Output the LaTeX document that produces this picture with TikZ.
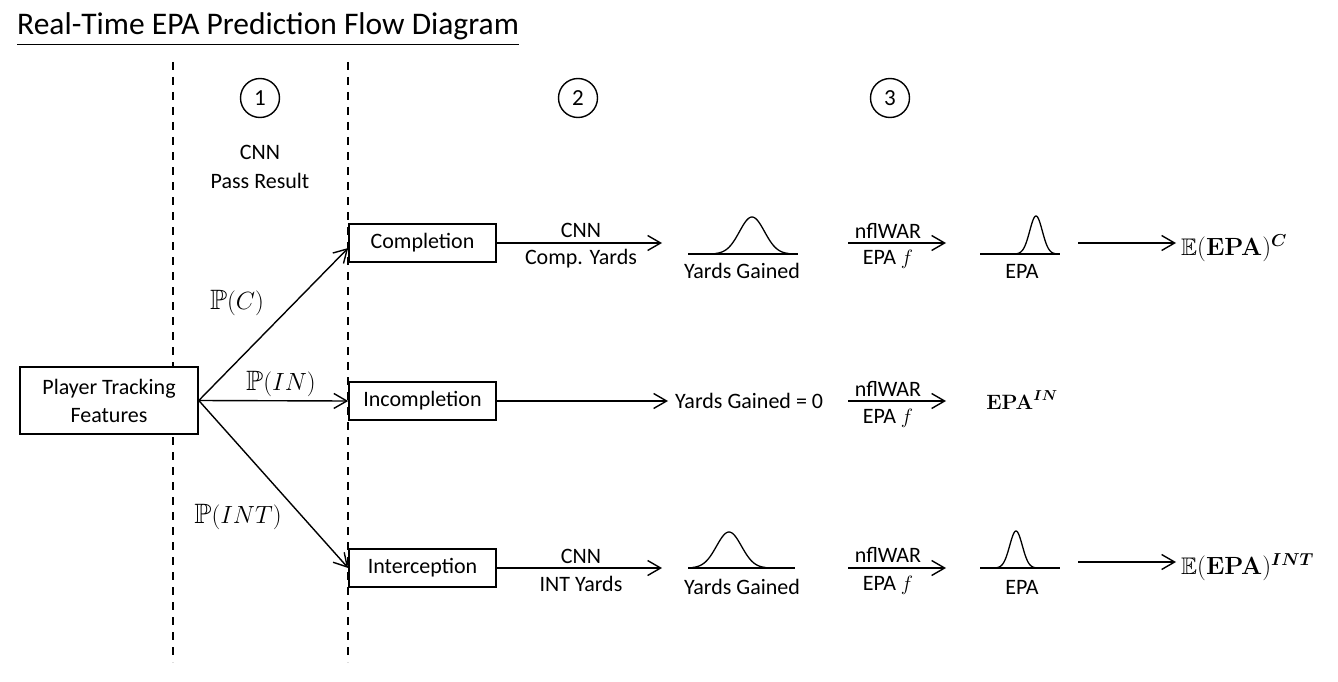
\documentclass[tikz,border=0pt]{standalone}
\usepackage[no-math]{fontspec}
\usepackage{amssymb}
\usepackage{bm}
\setmainfont{Carlito}
\usetikzlibrary{arrows.meta,calc}

\newcommand\lblfont{\fontsize{22}{28}\selectfont}
\newcommand\titlefont{\fontsize{31.5}{36}\selectfont}

\begin{document}
\begin{tikzpicture}[x=1pt,y=-1pt,
  box/.style={draw, fill=white, line width=1.6pt, minimum width=147pt, minimum height=38pt,
    inner sep=0pt, font=\lblfont},
  lab/.style={font=\lblfont, inner sep=0pt, anchor=base},
  mathlab/.style={font=\fontsize{28}{32}\selectfont, inner sep=0pt},
  result/.style={font=\fontsize{24}{28}\selectfont, inner sep=5pt},
  arr/.style={-{Straight Barb[length=13pt,width=15pt]}, line width=1.4pt},
  divider/.style={line width=1.5pt, dash pattern=on 8pt off 7pt},
  stepnum/.style={draw, circle, line width=1.4pt, minimum size=39pt, inner sep=0pt,
    font=\fontsize{23}{26}\selectfont},
  curve/.style={line width=1.3pt},
]
\useasboundingbox (0,0) rectangle (1338,682);

% title
\node[font=\titlefont, anchor=base west, inner sep=0pt] (title) at (17,35)
  {\underline{Real-Time EPA Prediction Flow Diagram}};

% stage separators
\draw[divider] (173,62) -- (173,662);
\draw[divider] (348,62) -- (348,662);

% stage numbers
\node[stepnum] (s1) at (260,98) {1};
\node[stepnum] (s2) at (578,98) {2};
\node[stepnum] (s3) at (890,98) {3};
\node[lab] (cnn1) at (260,160) {CNN};
\node[lab] (pr) at (260,188) {Pass Result};

% input and pass outcomes
\node[box, minimum width=178pt, minimum height=67pt, align=center] (ptf) at (109,400.5)
  {Player Tracking\\Features};
\node[box] (comp) at (422.5,243) {Completion};
\node[box] (inc) at (422.5,401) {Incompletion};
\node[box] (intc) at (422.5,568) {Interception};

\draw[arr] (ptf.east) -- ($(comp.west)+(0,5)$);
\draw[arr] (ptf.east) -- (inc.west);
\draw[arr] (ptf.east) -- (intc.west);

\node[mathlab] (pc) at (237,303) {$\mathbb{P}(C)$};
\node[mathlab] (pin) at (281,384) {$\mathbb{P}(IN)$};
\node[mathlab] (pint) at (238,517) {$\mathbb{P}(INT)$};

% ---------- completion row ----------
\coordinate (c1) at (662,243);
\draw[arr] (comp.east) -- (c1);
\node[lab] (cnn2) at (581,237) {CNN};
\node[lab] (cy) at (581,264) {Comp. Yards};

\draw[curve] (688,254) -- (798,254);
\draw[curve] plot[domain=-37:37, samples=70, smooth]
  ({752+\x},{254-37*exp(-(\x/12.5)*(\x/12.5)/2)});
\node[lab] (yg1) at (742,278) {Yards Gained};

\coordinate (w1a) at (848,243);
\coordinate (w1b) at (946,243);
\draw[arr] (w1a) -- (w1b);
\node[lab] (nw1) at (888,238) {nflWAR};
\node[lab] (ef1) at (888,264) {EPA $f$};

\draw[curve] (980,254) -- (1060,254);
\draw[curve] plot[domain=-19:19, samples=60, smooth]
  ({1036+\x},{254-38*exp(-(\x/6.3)*(\x/6.3)/2)});
\node[lab] (epa1) at (1022,278) {EPA};

\node[result, anchor=west] (ec) at (1176,248)
  {$\mathbb{E}(\mathbf{EPA})^{\bm{C}}$};
\coordinate (e1) at (1078,243);
\draw[arr] (e1) -- (e1 -| ec.west);

% ---------- incompletion row ----------
\node[font=\lblfont, inner sep=7pt, anchor=west] (yg0) at (668,401) {Yards Gained = 0};
\draw[arr] (inc.east) -- (yg0.west);

\coordinate (w2a) at (848,401);
\coordinate (w2b) at (946,401);
\draw[arr] (w2a) -- (w2b);
\node[lab] (nw2) at (888,396) {nflWAR};
\node[lab] (ef2) at (888,423) {EPA $f$};

\node[font=\fontsize{22}{25}\selectfont, inner sep=0pt] (epain) at (1022,400)
  {$\mathbf{EPA}^{\bm{IN}}$};

% ---------- interception row ----------
\coordinate (c3) at (662,568);
\draw[arr] (intc.east) -- (c3);
\node[lab] (cnn3) at (581,563) {CNN};
\node[lab] (iy) at (581,591) {INT Yards};

\draw[curve] (688,568) -- (795,568);
\draw[curve] plot[domain=-37:37, samples=70, smooth]
  ({729+\x},{568-36*exp(-(\x/12.5)*(\x/12.5)/2)});
\node[lab] (yg3) at (742,594) {Yards Gained};

\coordinate (w3a) at (848,568);
\coordinate (w3b) at (946,568);
\draw[arr] (w3a) -- (w3b);
\node[lab] (nw3) at (888,562) {nflWAR};
\node[lab] (ef3) at (888,590) {EPA $f$};

\draw[curve] (980,568) -- (1060,568);
\draw[curve] plot[domain=-19:19, samples=60, smooth]
  ({1016+\x},{568-37*exp(-(\x/6.3)*(\x/6.3)/2)});
\node[lab] (epa3) at (1022,594) {EPA};

\node[result, anchor=west] (eint) at (1176,567)
  {$\mathbb{E}(\mathbf{EPA})^{\bm{INT}}$};
\coordinate (e3) at (1078,562);
\draw[arr] (e3) -- (e3 -| eint.west);

\end{tikzpicture}
\end{document}
